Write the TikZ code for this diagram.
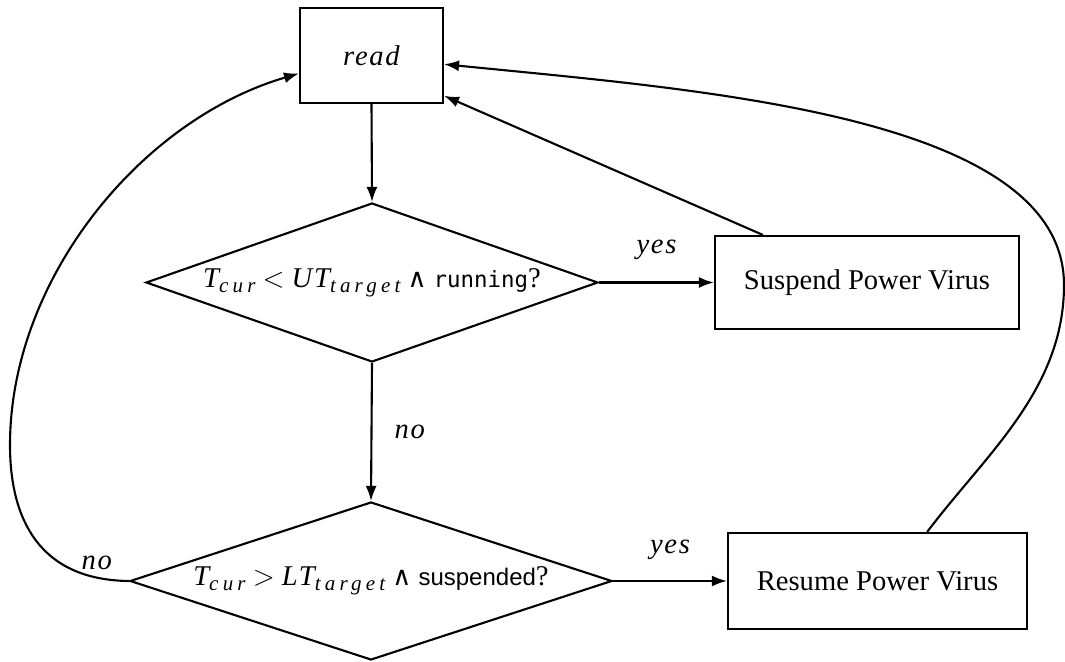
\documentclass[tikz,border=0pt]{standalone}
\usepackage{fontspec}
\setmainfont{Liberation Serif}
\newfontfamily\monofnt{DejaVu Sans Mono}
\newfontfamily\sansfnt{Liberation Sans}
\newfontfamily\itfnt[LetterSpace=6]{Liberation Serif Italic}
\newfontfamily\subfnt[LetterSpace=20]{Liberation Serif Italic}
\newfontfamily\symfnt{DejaVu Serif}
\newcommand{\vi}[1]{{\itfnt #1}}
\newcommand{\vsub}[1]{\raisebox{-2.6pt}{\subfnt\fontsize{10.5pt}{12pt}\selectfont #1}}
\newcommand{\wedgesym}{{\symfnt\fontsize{13pt}{15pt}\selectfont ∧}}
\usetikzlibrary{shapes.geometric,arrows.meta,calc}
\tikzset{
  base/.style={draw, line width=1.05pt, inner sep=0pt, font=\fontsize{14.3pt}{17pt}\selectfont},
  box/.style={base, rectangle},
  decision/.style={base, diamond},
  conn/.style={line width=1.05pt, -{Latex[length=7.5pt,width=5.5pt]}},
  lbl/.style={font=\fontsize{14.3pt}{17pt}\selectfont, inner sep=0pt}
}
\begin{document}
\begin{tikzpicture}[x=0.5pt,y=-0.5pt]
\useasboundingbox (0,0) rectangle (1065,662);
\node[box, minimum width=71.5pt, minimum height=47.5pt] (read) at (371.5,55.5) {\vi{read}};
\node[decision, shape aspect=2.8, minimum width=226pt, minimum height=79.5pt] (d1) at (372,282.5)
  {\vi{T}\vsub{cur} $<$ \vi{UT}\vsub{target} \wedgesym\ {\monofnt\fontsize{11.2pt}{13pt}\selectfont running}?};
\node[box, minimum width=152pt, minimum height=46.5pt] (sus) at (867,282.5) {Suspend Power Virus};
\node[decision, shape aspect=3.05, minimum width=241pt, minimum height=79pt] (d2) at (371,581)
  {\vi{T}\vsub{cur} $>$ \vi{LT}\vsub{target} \wedgesym\ {\sansfnt\fontsize{12pt}{14pt}\selectfont suspended}?};
\node[box, minimum width=149.5pt, minimum height=48pt] (res) at (877.5,581) {Resume Power Virus};

\coordinate (rc) at (1064,285);
\coordinate (lc) at (10,445);

\draw[conn] (read.south) -- (d1.north);
\draw[conn] (d1.east) -- node[lbl, above=11pt] {\vi{yes}} (sus.west);
\draw[conn] ($(sus.north west)!0.16!(sus.north east)$) -- ($(read.east)!0.83!(read.south east)$);
\draw[conn] (d1.south) -- node[lbl, right=11pt] {\vi{no}} (d2.north);
\draw[conn] (d2.east) -- node[lbl, above=10pt] {\vi{yes}} (res.west);
\draw[conn] ($(res.north west)!0.665!(res.north east)$) .. controls (985,455) and (1064,390) .. (rc)
  .. controls (1064,115) and (700,90) .. ($(read.east)!0.18!(read.south east)$);
\draw[conn] (d2.west) node[lbl, anchor=south east, xshift=-8pt, yshift=5pt] {\vi{no}}
  .. controls (40,580) and (10,520) .. (lc)
  .. controls (10,280) and (140,120) .. ($(read.west)!0.37!(read.south west)$);
\end{tikzpicture}
\end{document}
